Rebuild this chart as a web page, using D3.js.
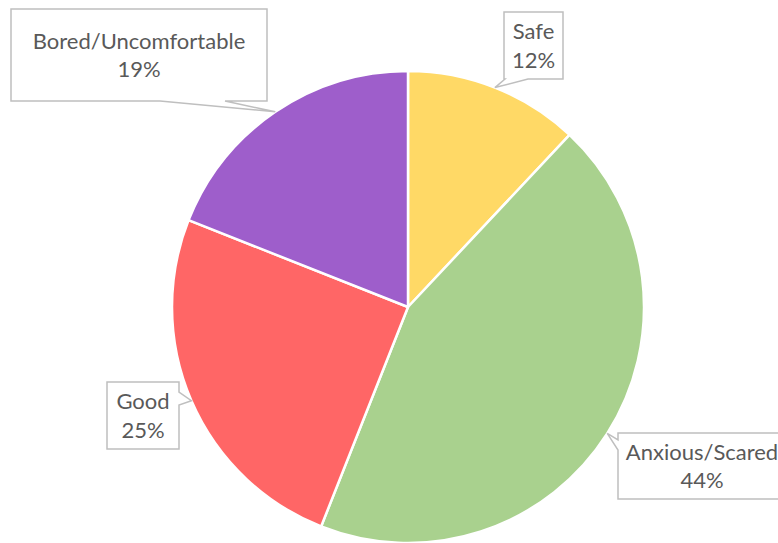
<!DOCTYPE html>
<html>
<head>
<meta charset="utf-8">
<script src="https://cdn.jsdelivr.net/npm/d3@7/dist/d3.min.js"></script>
<style>
  html, body { margin: 0; padding: 0; background: #ffffff; }
  svg { display: block; }
</style>
</head>
<body>
<svg id="chart" width="778" height="543"></svg>
<script>
// Feelings reported, share of responses (%)
const categories = ["Safe", "Anxious/Scared", "Good", "Bored/Uncomfortable"];
const values = [12, 44, 25, 19];
const colors = ["#FFD966", "#A9D18E", "#FF6666", "#9E5ECB"];

// Callout box placement for each slice (box rect + where the pointer leaves the box)
const callouts = [
  { x: 504, y: 12,  w: 59,  h: 67, side: "bottom", p0: 505, p1: 528 },
  { x: 618, y: 433, w: 168, h: 66, side: "left",   p0: 440, p1: 450 },
  { x: 107, y: 382, w: 72,  h: 67, side: "right",  p0: 392, p1: 405 },
  { x: 11,  y: 9,   w: 256, h: 92, side: "bottom", p0: 160, p1: 225 }
];

const width = 778, height = 543;
const cx = 408, cy = 307, radius = 236;

const svg = d3.select("#chart");
const g = svg.append("g").attr("transform", `translate(${cx},${cy})`);

const pie = d3.pie().sort(null).value(d => d.value).startAngle(0).endAngle(2 * Math.PI);
const data = categories.map((c, i) => ({ label: c, value: values[i], color: colors[i] }));
const arcs = pie(data);

const arc = d3.arc().innerRadius(0).outerRadius(radius);
const edge = d3.arc().innerRadius(radius).outerRadius(radius);

g.selectAll("path.slice")
  .data(arcs)
  .join("path")
  .attr("class", "slice")
  .attr("d", arc)
  .attr("fill", d => d.data.color)
  .attr("stroke", "#ffffff")
  .attr("stroke-width", 2.5)
  .attr("stroke-linejoin", "round");

// Callout outline: rectangle with a wedge pointing at the slice edge
function calloutPath(b, tip) {
  const x0 = b.x, y0 = b.y, x1 = b.x + b.w, y1 = b.y + b.h;
  const p = d3.path();
  p.moveTo(x0, y0);
  p.lineTo(x1, y0);
  if (b.side === "right") {
    p.lineTo(x1, b.p0); p.lineTo(tip[0], tip[1]); p.lineTo(x1, b.p1);
  }
  p.lineTo(x1, y1);
  if (b.side === "bottom") {
    p.lineTo(b.p1, y1); p.lineTo(tip[0], tip[1]); p.lineTo(b.p0, y1);
  }
  p.lineTo(x0, y1);
  if (b.side === "left") {
    p.lineTo(x0, b.p1); p.lineTo(tip[0], tip[1]); p.lineTo(x0, b.p0);
  }
  p.closePath();
  return p.toString();
}

const labels = svg.append("g");
arcs.forEach((d, i) => {
  const b = callouts[i];
  const c = edge.centroid(d);
  const tip = [cx + c[0], cy + c[1]];
  labels.append("path")
    .attr("d", calloutPath(b, tip))
    .attr("fill", "#ffffff")
    .attr("stroke", "#BFBFBF")
    .attr("stroke-width", 1.5);
  const mx = b.x + b.w / 2, my = b.y + b.h / 2;
  const t = labels.append("text")
    .attr("text-anchor", "middle")
    .attr("font-family", "Lato, 'Open Sans', sans-serif")
    .attr("font-size", 22)
    .attr("fill", "#595959");
  t.append("tspan").attr("x", mx).attr("y", my - 6.5).text(d.data.label);
  t.append("tspan").attr("x", mx).attr("y", my + 22).text(d3.format(".0f")(d.data.value) + "%");
});
</script>
</body>
</html>
